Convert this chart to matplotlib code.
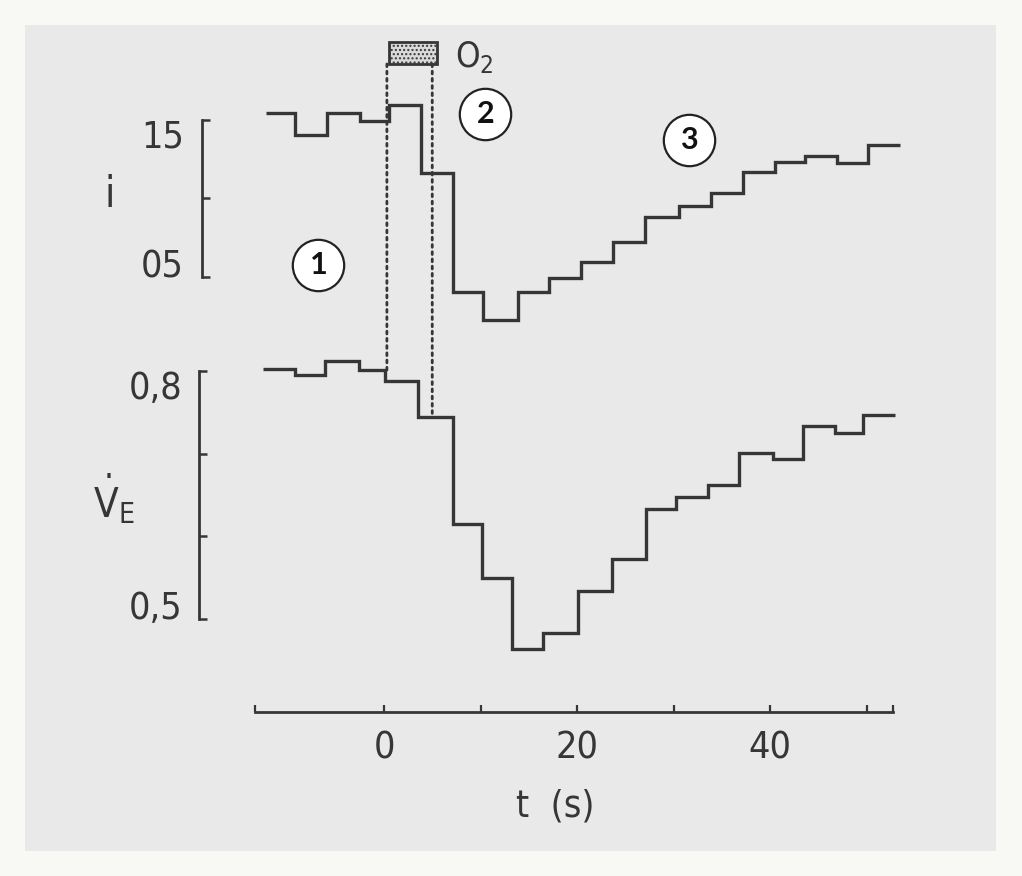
import matplotlib
matplotlib.use("Agg")
import matplotlib.pyplot as plt
from matplotlib.patches import Rectangle, ConnectionPatch

# ---------------- data ----------------
# step edges (s) and step values for the upper trace (i)
t_edges_i = [-12.2, -9.2, -5.9, -2.5, 0.5, 3.8, 7.2, 10.3, 13.9, 17.1, 20.4,
             23.7, 27.0, 30.6, 33.9, 37.2, 40.5, 43.6, 46.9, 50.2, 53.5]
i_values = [1.545, 1.404, 1.545, 1.494, 1.596, 1.162, 0.404, 0.226, 0.404,
            0.494, 0.596, 0.723, 0.882, 0.952, 1.035, 1.169, 1.232, 1.271,
            1.226, 1.341]
# step edges (s) and values for the lower trace (V_E)
t_edges_v = [-12.5, -9.2, -6.1, -2.6, 0.1, 3.5, 7.1, 10.2, 13.3, 16.5, 20.1,
             23.6, 27.1, 30.3, 33.6, 36.8, 40.3, 43.4, 46.7, 49.6, 53.0]
ve_values = [0.802, 0.795, 0.812, 0.801, 0.788, 0.744, 0.615, 0.550, 0.464,
             0.483, 0.534, 0.573, 0.633, 0.648, 0.662, 0.701, 0.694, 0.734,
             0.725, 0.747]

x_ticks = [0, 10, 20, 30, 40, 50]
x_tick_labels = ["0", "", "20", "", "40", ""]
x_axis_span = [-13.4, 52.7]
i_ticks = [0.5, 1.0, 1.5]
i_tick_labels = ["05", "15"]
ve_ticks = [0.5, 0.6, 0.7, 0.8]
ve_tick_labels = ["0,5", "0,8"]
o2_window = [0.5, 5.5]
o2_marks = [0.3, 5.0]
phase_labels = ["1", "2", "3"]
phase_pos = [(-6.8, 0.576), (10.5, 1.538), (31.6, 1.373)]

# ---------------- style ----------------
W, H = 1022, 876
INK = "#363636"
NARROW = dict(family=["DejaVu Sans Condensed", "DejaVu Sans"],
              stretch="condensed", color=INK)
plt.rcParams["mathtext.fontset"] = "custom"
plt.rcParams["mathtext.rm"] = "DejaVu Sans:stretch=condensed"
plt.rcParams["mathtext.it"] = "DejaVu Sans:stretch=condensed"
plt.rcParams["mathtext.bf"] = "DejaVu Sans:stretch=condensed:bold"

fig = plt.figure(figsize=(W / 100, H / 100), dpi=100, facecolor="#f8f8f5")
fig.add_artist(Rectangle((25 / W, 1 - 851 / H), 971 / W, 826 / H,
                         transform=fig.transFigure, facecolor="#e9e9e9",
                         edgecolor="none", zorder=0))

PX0, PXS = 384, 9.65            # pixel of t=0 and pixels per second


def tx(px):
    return (px - PX0) / PXS


def px_axes(top, bottom):
    return [190 / W, 1 - bottom / H, 730 / W, (bottom - top) / H]


ax1 = fig.add_axes(px_axes(30, 345))
ax2 = fig.add_axes(px_axes(345, 712))
for ax in (ax1, ax2):
    ax.set_facecolor("none")
    ax.set_xlim(tx(190), tx(920))
    for s in ("top", "right"):
        ax.spines[s].set_visible(False)

ax1.set_ylim(1.5 - 225 / 157, 1.5 + 90 / 157)
ax2.set_ylim(0.8 - 341 / 827, 0.8 + 26 / 827)


def iy(py):
    return 1.5 - (py - 120) / 157


def vy(py):
    return 0.8 - (py - 371) / 827


# traces
ax1.stairs(i_values, t_edges_i, baseline=None, color=INK, lw=2.4)
ax2.stairs(ve_values, t_edges_v, baseline=None, color=INK, lw=2.4)

# upper bracket axis
ax1.spines["bottom"].set_visible(False)
ax1.set_xticks([])
ax1.spines["left"].set_position(("data", tx(202)))
ax1.spines["left"].set_bounds(0.5, 1.5)
ax1.spines["left"].set_linewidth(2.0)
ax1.spines["left"].set_color(INK)
ax1.set_yticks(i_ticks)
ax1.set_yticklabels([])
ax1.tick_params(axis="y", direction="in", length=6, width=1.8, color=INK)
ax1.text(tx(184), 0.5, i_tick_labels[0], ha="right", va="baseline",
         fontsize=27, **NARROW)
ax1.text(tx(184), 1.5, i_tick_labels[1], ha="right", va="top",
         fontsize=27, **NARROW)
ax1.text(tx(110), iy(207), "i", ha="center", va="baseline",
         fontsize=30, **NARROW)

# lower bracket axis
ax2.spines["left"].set_position(("data", tx(199)))
ax2.spines["left"].set_bounds(0.5, 0.8)
ax2.spines["left"].set_linewidth(2.0)
ax2.spines["left"].set_color(INK)
ax2.set_yticks(ve_ticks)
ax2.set_yticklabels([])
ax2.tick_params(axis="y", direction="in", length=6, width=1.8, color=INK)
ax2.text(tx(182), 0.5, ve_tick_labels[0], ha="right", va="baseline",
         fontsize=27, **NARROW)
ax2.text(tx(182), 0.8, ve_tick_labels[1], ha="right", va="top",
         fontsize=27, **NARROW)
ax2.text(tx(93), vy(517), r"$\dot{\mathrm{V}}_{\mathrm{E}}$", ha="left",
         va="baseline", fontsize=29, color=INK)

# time axis
ax2.spines["bottom"].set_bounds(*x_axis_span)
ax2.spines["bottom"].set_linewidth(2.0)
ax2.spines["bottom"].set_color(INK)
ax2.set_xticks(x_ticks)
ax2.set_xticklabels(x_tick_labels, fontsize=27, **NARROW)
ax2.set_xticks(x_axis_span, minor=True)
ax2.tick_params(axis="x", which="both", direction="in", length=5, width=1.6,
                color=INK, pad=13)
ax2.set_xlabel("t  (s)", fontsize=27, labelpad=16, **NARROW)

# O2 window
ax1.add_patch(Rectangle((o2_window[0], 1.857), o2_window[1] - o2_window[0],
                        0.14, facecolor="#dadada", edgecolor=INK, lw=2,
                        hatch="....", zorder=3))
ax1.text(tx(455), iy(67), r"$\mathrm{O_2}$", ha="left", va="baseline",
         fontsize=25, color=INK)
for tm, vb in zip(o2_marks, [0.80, 0.744]):
    con = ConnectionPatch(xyA=(tm, 1.857), coordsA=ax1.transData,
                          xyB=(tm, vb), coordsB=ax2.transData,
                          color=INK, lw=2.0, linestyle=(0, (1, 1.6)))
    fig.add_artist(con)

# phase markers
for lab, (px, py) in zip(phase_labels, phase_pos):
    ax1.plot([px], [py], marker="o", ms=37, mfc="white", mec="#222222",
             mew=1.6, zorder=5)
    ax1.text(px, py, lab, ha="center", va="center",
             family=["Lato", "DejaVu Sans"], fontweight="bold", fontsize=22,
             color="#111111", zorder=6)

fig.savefig("out.png", dpi=100, facecolor=fig.get_facecolor())
